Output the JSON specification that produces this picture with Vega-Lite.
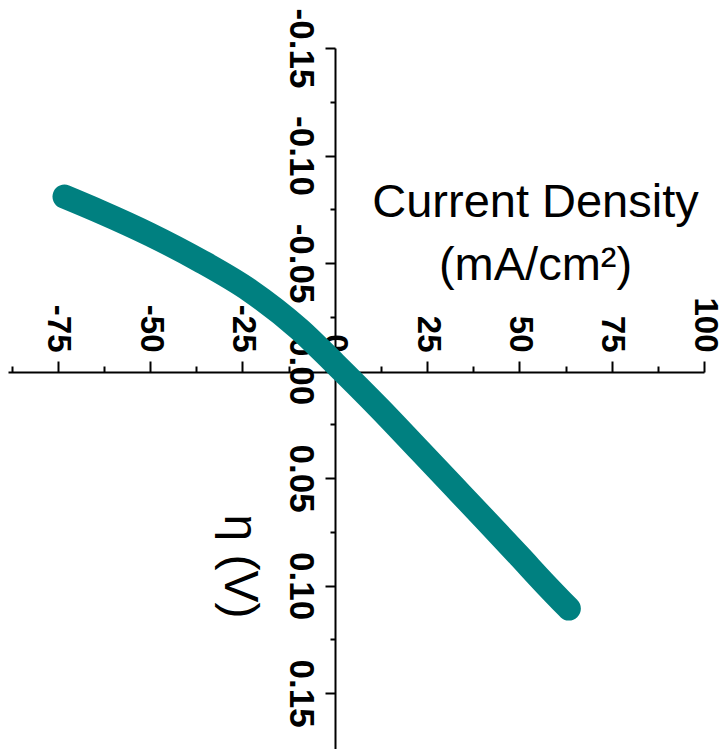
{
  "$schema": "https://vega.github.io/schema/vega-lite/v6.json",
  "width": 696,
  "height": 701,
  "autosize": {"type": "none"},
  "padding": {"left": 8, "top": 48, "right": 19, "bottom": 0},
  "background": "white",
  "config": {"view": {"stroke": null}},
  "data": {
    "values": [
      {"j": -73.2, "eta": -0.0809},
      {"j": -63.7, "eta": -0.0740},
      {"j": -50.1, "eta": -0.0633},
      {"j": -36.6, "eta": -0.0512},
      {"j": -23.0, "eta": -0.0372},
      {"j": -9.5, "eta": -0.0191},
      {"j": 0.0, "eta": -0.0033},
      {"j": 12.2, "eta": 0.0177},
      {"j": 23.0, "eta": 0.0372},
      {"j": 32.5, "eta": 0.0544},
      {"j": 41.2, "eta": 0.0702},
      {"j": 50.1, "eta": 0.0865},
      {"j": 56.9, "eta": 0.0991},
      {"j": 63.4, "eta": 0.1107}
    ]
  },
  "mark": {
    "type": "line",
    "color": "#008080",
    "strokeWidth": 24,
    "strokeCap": "round",
    "strokeJoin": "round",
    "interpolate": "monotone",
    "clip": false
  },
  "encoding": {
    "x": {
      "field": "j",
      "type": "quantitative",
      "scale": {"domain": [-88.5, 100], "nice": false, "zero": false},
      "axis": {
        "orient": "top",
        "offset": -324,
        "values": [-87.5, -75, -62.5, -50, -37.5, -25, -12.5, 0, 12.5, 25, 37.5, 50, 62.5, 75, 87.5, 100],
        "labelExpr": "datum.value % 25 === 0 ? (datum.value < 0 ? '-' : '') + format(abs(datum.value), 'd') : ''",
        "labelAngle": 90,
        "labelAlign": "right",
        "labelBaseline": "middle",
        "labelFont": "Liberation Sans",
        "labelFontSize": 33,
        "labelFontWeight": "bold",
        "labelColor": "black",
        "labelPadding": 9,
        "labelFlush": false,
        "labelOverlap": false,
        "labelBound": false,
        "tickSize": {"condition": {"test": "datum.value % 25 === 0", "value": 11}, "value": 6},
        "tickWidth": 2,
        "tickColor": "black",
        "domainColor": "black",
        "domainWidth": 2,
        "grid": false,
        "title": ["Current Density", "(mA/cm²)"],
        "titleX": 527,
        "titleY": -156,
        "titleAlign": "center",
        "titleBaseline": "alphabetic",
        "titleAngle": 0,
        "titleFont": "Liberation Sans",
        "titleFontSize": 47,
        "titleFontWeight": "normal",
        "titleColor": "black",
        "titleLineHeight": 63
      }
    },
    "y": {
      "field": "eta",
      "type": "quantitative",
      "scale": {"domain": [-0.15, 0.176], "reverse": true, "nice": false, "zero": false},
      "axis": {
        "orient": "left",
        "offset": -327,
        "values": [-0.15, -0.125, -0.1, -0.075, -0.05, -0.025, 0, 0.025, 0.05, 0.075, 0.1, 0.125, 0.15],
        "labelExpr": "abs(datum.value * 20 - round(datum.value * 20)) < 0.000001 ? (datum.value < -0.000001 ? '-' : '') + format(abs(datum.value), '.2f') : ''",
        "labelAngle": 90,
        "labelAlign": "center",
        "labelBaseline": "top",
        "labelFont": "Liberation Sans",
        "labelFontSize": 35,
        "labelFontWeight": "bold",
        "labelColor": "black",
        "labelPadding": 8,
        "labelFlush": false,
        "labelOverlap": false,
        "labelBound": false,
        "tickSize": {"condition": {"test": "abs(datum.value * 20 - round(datum.value * 20)) < 0.000001", "value": 10}, "value": 5},
        "tickWidth": 2,
        "tickColor": "black",
        "domainColor": "black",
        "domainWidth": 2,
        "grid": false,
        "title": "η (V)",
        "titleX": -97,
        "titleY": 518,
        "titleAlign": "center",
        "titleBaseline": "middle",
        "titleAngle": 90,
        "titleFont": "Liberation Sans",
        "titleFontSize": 48,
        "titleFontWeight": "normal",
        "titleColor": "black"
      }
    }
  }
}
